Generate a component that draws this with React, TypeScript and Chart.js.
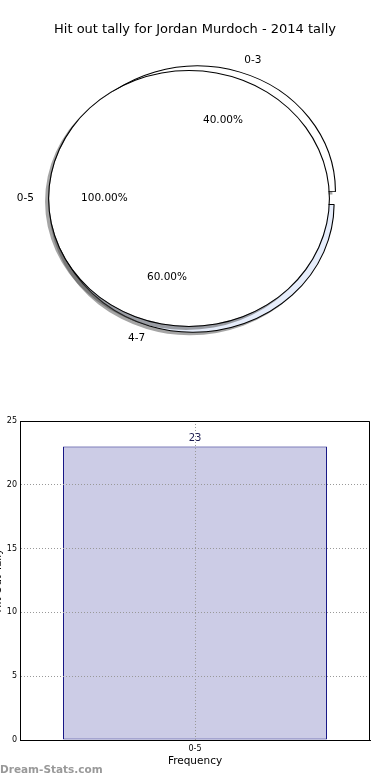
import React, { useEffect, useRef } from 'react';
import { Chart, registerables } from 'chart.js';

Chart.register(...registerables);

const FONT = 'DejaVu Sans';
Chart.defaults.font.family = FONT;

// ---- data ----
const chartTitle = 'Hit out tally for Jordan Murdoch - 2014 tally';
const outerLabels = ['0-3', '4-7'];
const outerValues = [40, 60];
const outerColors = ['#ffffff', '#e6edfb'];
const outerOffsets = [28, 22];
const innerLabels = ['0-5'];
const innerValues = [100];
const barCategories = ['0-5'];
const barValues = [23];
const yTickMin = 0;
const yTickMax = 25;
const yTickStep = 5;
const xAxisTitle = 'Frequency';
const yAxisTitle = 'Hit Out Tally';
const watermark = 'Dream-Stats.com';

// ellipse stretch (matplotlib pie on non-equal aspect)
const SX = 1.097;
const SHADOW = 'rgba(76,76,76,0.5)';

function pieOptions(titleColor: string, rotation: number, radius: number, padRight: number) {
  return {
    responsive: false,
    animation: false,
    devicePixelRatio: 1,
    events: [],
    rotation,
    radius,
    layout: { padding: { top: 0, left: 0, right: padRight, bottom: 20.8 } },
    plugins: {
      legend: { display: false },
      tooltip: { enabled: false },
      title: {
        display: true,
        text: chartTitle,
        color: titleColor,
        font: { family: FONT, size: 13, weight: 'normal', lineHeight: 1.2 },
        padding: { top: 22.2, bottom: 0 },
      },
    },
  } as any;
}

const ellipsePlugin = {
  id: 'ellipse',
  beforeDatasetsDraw(chart: any) {
    const ctx = chart.ctx;
    const a = chart.chartArea;
    const cx = (a.left + a.right) / 2;
    const cy = (a.top + a.bottom) / 2;
    ctx.save();
    ctx.translate(cx, cy);
    ctx.scale(SX, 1);
    ctx.translate(-cx, -cy);
  },
  afterDatasetsDraw(chart: any) {
    chart.ctx.restore();
  },
};

function drawArcLabels(ctx: CanvasRenderingContext2D, chart: any, labels: string[], values: number[]) {
  const total = values.reduce((s, v) => s + v, 0);
  const meta = chart.getDatasetMeta(0);
  meta.data.forEach((arc: any, i: number) => {
    const p = arc.getProps(['x', 'y', 'startAngle', 'endAngle', 'outerRadius', 'circumference'], true);
    const t = (arc.options.offset || 0) / 4;
    const mid = (p.startAngle + p.endAngle) / 2;
    const fix = 1 - Math.sin(Math.min(Math.PI, p.circumference));
    const r = p.outerRadius + t * fix;
    const c = Math.cos(mid);
    const s = Math.sin(mid);
    const pos = (k: number) => ({ x: p.x + c * (t + k * r) * SX, y: p.y + s * (t + k * r) });
    const o = pos(1.1);
    ctx.textAlign = c > 0 ? 'left' : 'right';
    ctx.fillText(labels[i], o.x, o.y);
    const n = pos(0.6);
    ctx.textAlign = 'center';
    ctx.fillText(((values[i] / total) * 100).toFixed(2) + '%', n.x, n.y);
  });
}

export default function App() {
  const aShRef = useRef<HTMLCanvasElement>(null);
  const aRef = useRef<HTMLCanvasElement>(null);
  const bShRef = useRef<HTMLCanvasElement>(null);
  const bRef = useRef<HTMLCanvasElement>(null);
  const barRef = useRef<HTMLCanvasElement>(null);

  useEffect(() => {
    const charts: Chart[] = [];

    // shadow of the 0-3 / 4-7 pie
    charts.push(
      new Chart(aShRef.current as HTMLCanvasElement, {
        type: 'pie',
        data: {
          labels: outerLabels,
          datasets: [{ data: outerValues, backgroundColor: SHADOW, borderWidth: 0, offset: outerOffsets } as any],
        },
        options: pieOptions('rgba(0,0,0,0)', -54, 123, 0),
        plugins: [ellipsePlugin],
      })
    );

    const chartA = new Chart(aRef.current as HTMLCanvasElement, {
      type: 'pie',
      data: {
        labels: outerLabels,
        datasets: [
          {
            data: outerValues,
            backgroundColor: outerColors,
            borderColor: '#000000',
            borderWidth: 1,
            offset: outerOffsets,
          } as any,
        ],
      },
      options: pieOptions('#000000', -54, 123, 0),
      plugins: [ellipsePlugin],
    });
    charts.push(chartA);

    // shadow of the 0-5 pie
    charts.push(
      new Chart(bShRef.current as HTMLCanvasElement, {
        type: 'pie',
        data: {
          labels: innerLabels,
          datasets: [{ data: innerValues, backgroundColor: SHADOW, borderWidth: 0 } as any],
        },
        options: pieOptions('rgba(0,0,0,0)', 90, 128.5, 12),
        plugins: [ellipsePlugin],
      })
    );

    const labelPlugin = {
      id: 'pieLabels',
      afterDraw(chart: any) {
        const ctx = chart.ctx as CanvasRenderingContext2D;
        ctx.save();
        ctx.font = `10.5px ${FONT}`;
        ctx.fillStyle = '#000000';
        ctx.textBaseline = 'middle';
        drawArcLabels(ctx, chartA, outerLabels, outerValues);
        drawArcLabels(ctx, chart, innerLabels, innerValues);
        ctx.restore();
      },
    };

    const chartB = new Chart(bRef.current as HTMLCanvasElement, {
      type: 'pie',
      data: {
        labels: innerLabels,
        datasets: [
          { data: innerValues, backgroundColor: '#000000', borderWidth: 0, weight: 1 } as any,
          { data: innerValues, backgroundColor: '#ffffff', borderWidth: 0, weight: 127.5 } as any,
        ],
      },
      options: pieOptions('rgba(0,0,0,0)', 90, 128.5, 12),
      plugins: [ellipsePlugin, labelPlugin],
    });
    charts.push(chartB);

    const framePlugin = {
      id: 'frameAndText',
      afterDraw(chart: any) {
        const ctx = chart.ctx as CanvasRenderingContext2D;
        const a = chart.chartArea;
        ctx.save();
        ctx.strokeStyle = '#000000';
        ctx.lineWidth = 1;
        ctx.beginPath();
        const top = Math.round(a.top) + 0.5;
        const right = Math.round(a.right) - 0.5;
        ctx.moveTo(a.left, top);
        ctx.lineTo(right, top);
        ctx.lineTo(right, a.bottom);
        ctx.stroke();
        // value label
        const meta = chart.getDatasetMeta(0);
        ctx.font = `10px ${FONT}`;
        ctx.fillStyle = '#1c1c50';
        ctx.textAlign = 'center';
        ctx.textBaseline = 'middle';
        meta.data.forEach((bar: any, i: number) => {
          ctx.fillText(String(barValues[i]), bar.x, bar.y - 8.5);
        });
        // watermark
        ctx.font = `bold 10.5px ${FONT}`;
        ctx.fillStyle = '#999999';
        ctx.textAlign = 'left';
        ctx.fillText(watermark, 10, 370);
        ctx.restore();
      },
    };

    const chartBar = new Chart(barRef.current as HTMLCanvasElement, {
      type: 'bar',
      data: {
        labels: barCategories,
        datasets: [
          {
            data: barValues,
            backgroundColor: '#cccce6',
            borderColor: '#00007a',
            borderWidth: 1,
            borderSkipped: false,
            barPercentage: 0.754,
            categoryPercentage: 1,
          } as any,
        ],
      },
      options: {
        responsive: false,
        animation: false,
        devicePixelRatio: 1,
        events: [],
        layout: { padding: { top: 21, right: 20, bottom: 0, left: 0 } },
        plugins: { legend: { display: false }, tooltip: { enabled: false } },
        scales: {
          x: {
            type: 'category',
            offset: true,
            grid: { offset: false, color: '#999999', lineWidth: 1, drawTicks: false, z: 1 },
            border: { display: true, color: '#000000', width: 1, dash: [1, 2], z: 2 },
            ticks: { font: { family: FONT, size: 8 }, color: '#000000', padding: 4 },
            title: {
              display: true,
              text: xAxisTitle,
              color: '#000000',
              font: { family: FONT, size: 10.5 },
              padding: { top: 0, bottom: 12.7 },
            },
            afterFit(s: any) {
              s.height = 40;
            },
          },
          y: {
            min: yTickMin,
            max: yTickMax,
            grid: { color: '#999999', lineWidth: 1, drawTicks: false, z: 1 },
            border: { display: true, color: '#000000', width: 1, dash: [1, 2], z: 2 },
            ticks: { stepSize: yTickStep, font: { family: FONT, size: 8 }, color: '#000000', padding: 3 },
            title: {
              display: true,
              text: yAxisTitle,
              color: '#000000',
              font: { family: FONT, size: 10.5 },
              padding: { top: 1.5, bottom: 0 },
            },
            afterFit(s: any) {
              s.width = 30;
            },
          },
        },
      } as any,
      plugins: [framePlugin],
    });
    charts.push(chartBar);

    return () => charts.forEach((c) => c.destroy());
  }, []);

  const layer = (left: number, top: number) => ({ position: 'absolute' as const, left, top });

  return (
    <div
      style={{
        position: 'absolute',
        left: 0,
        top: 0,
        width: 390,
        height: 780,
        overflow: 'hidden',
        background: '#ffffff',
      }}
    >
      <canvas ref={aShRef} width={390} height={380} style={layer(-3, 3)} />
      <canvas ref={aRef} width={390} height={380} style={layer(0, 0)} />
      <canvas ref={bShRef} width={390} height={380} style={layer(-3, 3)} />
      <canvas ref={bRef} width={390} height={380} style={layer(0, 0)} />
      <canvas ref={barRef} width={400} height={380} style={layer(-10, 400)} />
    </div>
  );
}
